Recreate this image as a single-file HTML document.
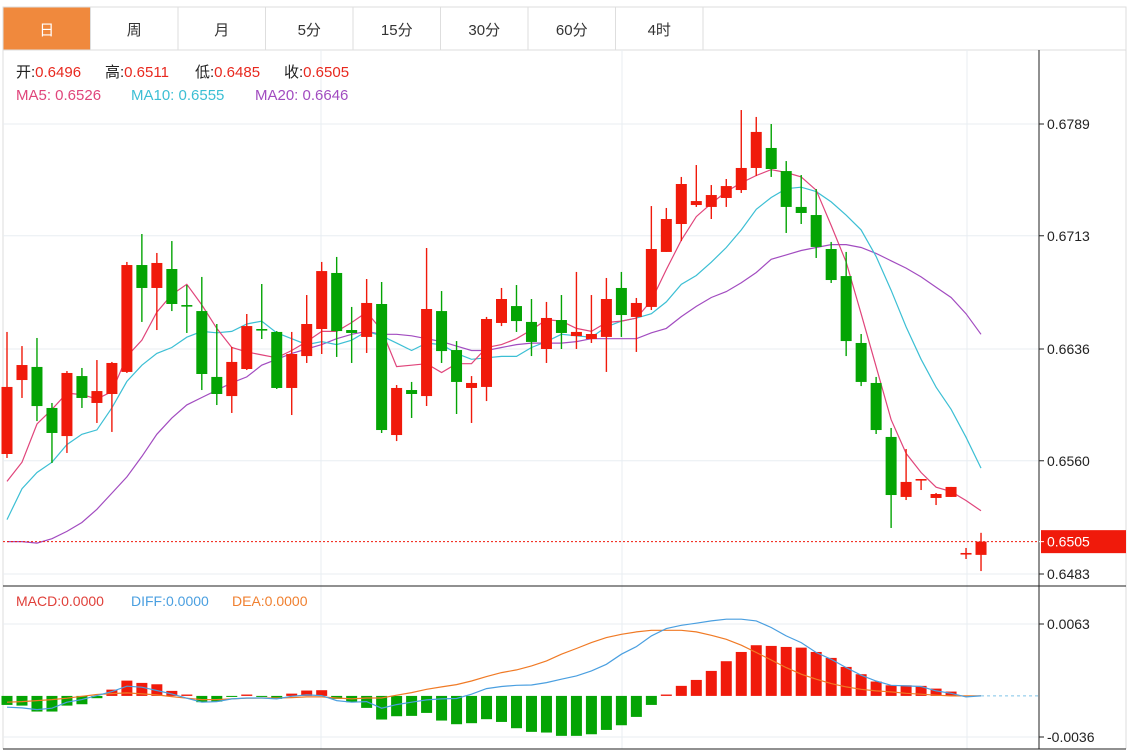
<!DOCTYPE html>
<html><head><meta charset="utf-8">
<style>
html,body{margin:0;padding:0;background:#fff;width:1135px;height:752px;overflow:hidden}
svg{display:block;font-family:"Liberation Sans","Noto Sans CJK SC",sans-serif}
</style></head>
<body>
<svg id="c" width="1135" height="752" xmlns="http://www.w3.org/2000/svg">
<rect x="0" y="0" width="1135" height="752" fill="#fff"/>
<g id="tabs"></g>
<g id="grid"></g>
<g id="ma"></g>
<g id="candles"></g>
<g id="macd"></g>
<g id="axis"></g>
<g id="legend" font-size="15">
  <text x="16" y="77" fill="#222">开:<tspan fill="#e8281e">0.6496</tspan></text>
  <text x="105" y="77" fill="#222">高:<tspan fill="#e8281e">0.6511</tspan></text>
  <text x="195" y="77" fill="#222">低:<tspan fill="#e8281e">0.6485</tspan></text>
  <text x="284" y="77" fill="#222">收:<tspan fill="#e8281e">0.6505</tspan></text>
  <text x="16" y="100" fill="#e0457b">MA5: 0.6526</text>
  <text x="131" y="100" fill="#3cbfd4">MA10: 0.6555</text>
  <text x="255" y="100" fill="#a24cc0">MA20: 0.6646</text>
  <text x="16" y="606" font-size="14" fill="#e0403a">MACD:0.0000</text>
  <text x="131" y="606" font-size="14" fill="#4a9fe0">DIFF:0.0000</text>
  <text x="232" y="606" font-size="14" fill="#f08030">DEA:0.0000</text>
</g>
</svg>
<script>
const tabLabels=["日","周","月","5分","15分","30分","60分","4时"];
const priceTicks=[0.6789,0.6713,0.6636,0.6560,0.6483];
const macdTicks=[0.0063,-0.0036];
const openP=[0.65646,0.66149,0.66238,0.65959,0.65768,0.66176,0.65993,0.66054,0.66204,0.66931,0.66775,0.66904,0.66659,0.66618,0.66170,0.66040,0.66224,0.66496,0.66476,0.66095,0.66312,0.66496,0.66877,0.66489,0.66442,0.66666,0.65775,0.66081,0.66040,0.66618,0.66353,0.66095,0.66102,0.66537,0.66652,0.66544,0.66360,0.66557,0.66448,0.66428,0.66442,0.66775,0.66578,0.66646,0.67020,0.67210,0.67339,0.67326,0.67387,0.67441,0.67591,0.67727,0.67570,0.67326,0.67271,0.67040,0.66856,0.66401,0.66129,0.65762,0.65354,0.65469,0.65347,0.65354,0.64966,0.6496];
const highP=[0.66476,0.66380,0.66435,0.65993,0.66210,0.66231,0.66285,0.66272,0.66952,0.67142,0.67013,0.67094,0.66795,0.66850,0.66530,0.66374,0.66598,0.66802,0.66482,0.66476,0.66727,0.66952,0.66986,0.66646,0.66836,0.66816,0.66115,0.66136,0.67047,0.66754,0.66414,0.66176,0.66578,0.66775,0.66795,0.66700,0.66680,0.66727,0.66884,0.66727,0.66843,0.66884,0.66707,0.67332,0.67319,0.67530,0.67611,0.67475,0.67516,0.67985,0.67938,0.67890,0.67638,0.67543,0.67448,0.67088,0.67020,0.66462,0.66170,0.65823,0.65680,0.65476,0.65381,0.65422,0.65007,0.6511];
const lowP=[0.65619,0.66027,0.65870,0.65585,0.65653,0.65959,0.65857,0.65796,0.66197,0.66544,0.66489,0.66618,0.66469,0.66081,0.65979,0.65925,0.66217,0.66428,0.66088,0.65911,0.66265,0.66326,0.66306,0.66265,0.66333,0.65789,0.65734,0.65891,0.65972,0.66265,0.65918,0.65857,0.66006,0.66516,0.66476,0.66312,0.66265,0.66360,0.66360,0.66401,0.66204,0.66442,0.66340,0.66625,0.67020,0.67094,0.67326,0.67244,0.67326,0.67421,0.67536,0.67530,0.67149,0.67210,0.66979,0.66809,0.66312,0.66108,0.65782,0.65143,0.65333,0.65401,0.65299,0.65354,0.64932,0.6485];
const closeP=[0.66102,0.66251,0.65972,0.65789,0.66197,0.66027,0.66074,0.66265,0.66931,0.66775,0.66945,0.66666,0.66652,0.66190,0.66054,0.66272,0.66516,0.66489,0.66095,0.66326,0.66530,0.66890,0.66482,0.66469,0.66673,0.65809,0.66095,0.66054,0.66632,0.66346,0.66136,0.66129,0.66564,0.66700,0.66550,0.66408,0.66571,0.66469,0.66476,0.66462,0.66700,0.66591,0.66673,0.67040,0.67244,0.67482,0.67366,0.67407,0.67468,0.67591,0.67836,0.67584,0.67326,0.67285,0.67054,0.66829,0.66414,0.66136,0.65809,0.65367,0.65456,0.65476,0.65374,0.65422,0.64973,0.6505];
const ma5=[.6546,.6559,.6585,.6595,.6606,.6605,.6602,.6607,.6631,.6642,.6661,.6673,.6680,.6666,.6650,.6637,.6634,.6632,.6630,.6635,.6641,.6648,.6648,.6654,.6661,.6649,.6624,.6625,.6626,.6620,.6626,.6626,.6637,.6639,.6643,.6649,.6656,.6655,.6650,.6648,.6654,.6655,.6657,.6669,.6690,.6710,.6726,.6735,.6743,.6749,.6754,.6758,.6756,.6753,.6744,.6720,.6695,.6660,.6624,.6588,.6565,.6552,.6542,.6539,.6533,.6526];
const ma10=[.6520,.6541,.6552,.6559,.6571,.6578,.6581,.6596,.6614,.6625,.6633,.6637,.6644,.6648,.6647,.6648,.6653,.6655,.6647,.6643,.6639,.6641,.6639,.6642,.6648,.6645,.6640,.6635,.6640,.6639,.6633,.6629,.6630,.6631,.6631,.6637,.6641,.6646,.6645,.6644,.6651,.6655,.6657,.6660,.6668,.6680,.6686,.6695,.6705,.6717,.6731,.6739,.6745,.6746,.6743,.6736,.6727,.6717,.6699,.6676,.6651,.6629,.6610,.6595,.6576,.6555];
const ma20=[.6505,.6505,.6504,.6507,.6512,.6518,.6527,.6538,.6549,.6563,.6578,.6589,.6598,.6603,.6608,.6613,.6617,.6625,.6629,.6633,.6636,.6639,.6643,.6646,.6648,.6646,.6646,.6645,.6643,.6641,.6638,.6635,.6635,.6637,.6639,.6640,.6640,.6640,.6641,.6643,.6643,.6643,.6643,.6647,.6650,.6658,.6665,.6671,.6675,.6681,.6688,.6697,.6700,.6703,.6705,.6707,.6707,.6705,.6701,.6696,.6691,.6685,.6678,.6671,.6660,.6646];
const macdHist=[-0.00079,-0.00085,-0.00137,-0.00137,-0.00085,-0.00073,-0.00020,0.00055,0.00134,0.00114,0.00102,0.00044,0.00012,-0.00055,-0.00050,-0.00009,0.00012,-0.00006,-0.00026,0.00020,0.00047,0.00050,-0.00026,-0.00055,-0.00105,-0.00207,-0.00178,-0.00175,-0.00149,-0.00216,-0.00248,-0.00239,-0.00204,-0.00228,-0.00283,-0.00315,-0.00321,-0.00350,-0.00350,-0.00336,-0.00298,-0.00257,-0.00184,-0.00079,0.00012,0.00088,0.00140,0.00219,0.00304,0.00385,0.00444,0.00438,0.00429,0.00423,0.00385,0.00333,0.00254,0.00190,0.00126,0.00093,0.00093,0.00088,0.00064,0.00038,0,0];
const diffE4=[-9.9,-10.5,-12.0,-10.8,-5.5,-3.2,0.3,3.8,8.5,7.6,4.7,1.8,-2.0,-5.5,-5.0,-2.6,-1.8,-1.8,-2.6,-0.3,0.9,0.3,-4.1,-5.5,-5.0,-10.8,-7.6,-5.5,-3.5,-2.6,-2.3,1.5,6.4,8.2,9.3,9.6,11.7,14.6,17.5,21.9,27.7,36.5,43.2,52.6,59.0,61.9,63.7,65.7,67.2,67.2,65.7,59.9,52.6,46.7,38.0,32.1,24.8,18.1,13.1,9.3,8.8,8.2,4.4,2.3,-0.9,0];
const deaE4=[-5.5,-5.0,-4.1,-3.2,-2.0,-0.3,1.2,2.0,2.6,1.8,0.9,-0.6,-2.0,-3.2,-3.2,-2.6,-2.0,-1.8,-1.8,-1.5,-0.9,-0.9,-1.8,-2.6,-1.8,-1.8,0.6,2.9,5.8,7.9,9.9,13.1,16.9,20.4,22.8,26.3,30.7,36.5,41.5,46.7,51.1,54.0,56.1,57.5,57.5,57.5,56.1,53.1,49.6,44.4,38.0,31.5,24.8,19.0,14.6,10.8,7.9,5.8,4.4,3.5,2.3,1.5,0.6,0,0,0];
const lastPrice=0.6505;

const NS="http://www.w3.org/2000/svg";
function mk(tag,attrs,parent){const e=document.createElementNS(NS,tag);for(const k in attrs)e.setAttribute(k,attrs[k]);parent.appendChild(e);return e;}
const yP=p=>124+(0.6789-p)*(450/(0.6789-0.6483));
const yM=v=>624+(0.0063-v)*(113/0.0099);
const xC=i=>7+i*14.985;
const RED="#f01a0b",GREEN="#04a404";

const tabs=document.getElementById('tabs');
let r=mk('rect',{x:3,y:7,width:1123,height:43,fill:'#fff',stroke:'#dedede'},tabs);


tabLabels.forEach((t,i)=>{
  const x=3+i*87.5;
  const b=mk('rect',{x:x,y:7,width:87.5,height:43,fill:i===0?'#f0893d':'#fff',stroke:'#dedede'},tabs);
  
  
  const tx=mk('text',{x:x+43.75,y:35,'text-anchor':'middle','font-size':15,fill:i===0?'#fff':'#333'},tabs);
  tx.textContent=t;
  
  
});

const grid=document.getElementById('grid');
mk('line',{x1:3,y1:50,x2:3,y2:749,stroke:'#dcdcdc'},grid);
mk('line',{x1:1126,y1:50,x2:1126,y2:749,stroke:'#dcdcdc'},grid);
[321,622,967].forEach(x=>{mk('line',{x1:x,y1:50,x2:x,y2:749,stroke:'#e8edf2'},grid);});
priceTicks.forEach(p=>{mk('line',{x1:3,y1:yP(p),x2:1039,y2:yP(p),stroke:'#e8edf2'},grid);});
macdTicks.forEach(v=>{mk('line',{x1:3,y1:yM(v),x2:1039,y2:yM(v),stroke:'#e8edf2'},grid);});
mk('line',{x1:3,y1:586,x2:1126,y2:586,stroke:'#222'},grid);
mk('line',{x1:3,y1:749,x2:1126,y2:749,stroke:'#222'},grid);

const maG=document.getElementById('ma');
[[ma20,'#a24cc0','ma20-line'],[ma10,'#3cbfd4','ma10-line'],[ma5,'#e0457b','ma5-line']].forEach(([arr,col,nm])=>{
  const d=arr.map((v,i)=>(i?'L':'M')+xC(i).toFixed(1)+','+yP(v).toFixed(1)).join('');
  const p=mk('path',{d:d,fill:'none',stroke:col,'stroke-width':1.2},maG);
  
  
});

const cg=document.getElementById('candles');
openP.forEach((o,i)=>{
  const c=closeP[i],up=c>=o,col=up?RED:GREEN,x=xC(i);
  const g=mk('g',{},cg);
  
  
  mk('line',{x1:x,y1:yP(highP[i]),x2:x,y2:yP(lowP[i]),stroke:col,'stroke-width':1.4},g);
  const t=Math.min(yP(o),yP(c)),h=Math.max(1.6,Math.abs(yP(o)-yP(c)));
  mk('rect',{x:x-5.5,y:t,width:11,height:h,fill:col},g);
});

const ly=yP(lastPrice);
const lp=mk('line',{x1:3,y1:ly,x2:1039,y2:ly,stroke:RED,'stroke-dasharray':'2,2','stroke-width':1},cg);



const mg=document.getElementById('macd');
const z=yM(0);
macdHist.forEach((v,i)=>{
  if(v===0)return;
  const y=yM(v);
  const b=mk('rect',{x:xC(i)-5.5,y:Math.min(y,z),width:11,height:Math.max(1,Math.abs(y-z)),fill:v>0?RED:GREEN},mg);
  
  
});
mk('line',{x1:xC(macdHist.length-1),y1:z,x2:1039,y2:z,stroke:'#7fc4e8','stroke-dasharray':'3,3'},mg);
[[deaE4,'#f07a25','dea-line'],[diffE4,'#4a9fe0','diff-line']].forEach(([arr,col,nm])=>{
  const d=arr.map((v,i)=>(i?'L':'M')+xC(i).toFixed(1)+','+yM(v/10000).toFixed(1)).join('');
  const p=mk('path',{d:d,fill:'none',stroke:col,'stroke-width':1.2},mg);
  
  
});

const ax=document.getElementById('axis');
mk('line',{x1:1039,y1:50,x2:1039,y2:749,stroke:'#222'},ax);
priceTicks.forEach(p=>{
  const y=yP(p);
  mk('line',{x1:1039,y1:y,x2:1044,y2:y,stroke:'#222'},ax);
  const t=mk('text',{x:1047,y:y+5,'font-size':14,fill:'#222'},ax);
  t.textContent=p.toFixed(4);
  
  
});
const lb=mk('rect',{x:1041,y:ly-11.5,width:85,height:23,fill:RED},ax);


mk('line',{x1:1039,y1:ly,x2:1044,y2:ly,stroke:'#fff'},ax);
const lt=mk('text',{x:1047,y:ly+5,'font-size':14,fill:'#fff'},ax);
lt.textContent=lastPrice.toFixed(4);


macdTicks.forEach(v=>{
  const y=yM(v);
  mk('line',{x1:1039,y1:y,x2:1044,y2:y,stroke:'#222'},ax);
  const t=mk('text',{x:1047,y:y+5,'font-size':14,fill:'#222'},ax);
  t.textContent=v.toFixed(4);
  
  
});
</script>
</body></html>
